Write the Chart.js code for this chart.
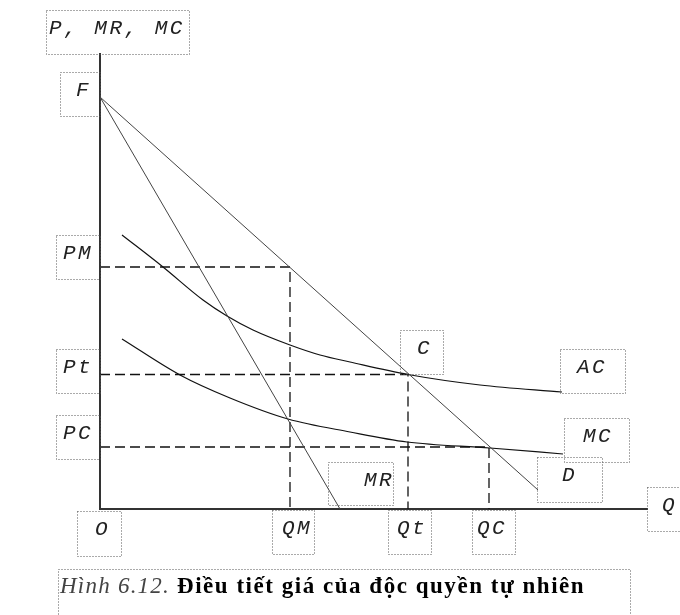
<!DOCTYPE html>
<html>
<head>
<meta charset="utf-8">
<title>Hình 6.12</title>
<script src="https://cdn.jsdelivr.net/npm/chart.js@4.4.1/dist/chart.umd.min.js"></script>
<style>
  body { margin: 0; background: #fff; }
  canvas { display: block; }
</style>
</head>
<body>
<canvas id="chart" width="680" height="615"></canvas>
<script>
// values (Q on x, P on y, arbitrary units)
const demandQ = [0, 87.6];
const demandP = [82.4, 3.8];
const mrQ = [0, 48];
const mrP = [82.4, 0];
const acQ = [4.4, 12.6, 20.6, 25.4, 30.6, 38, 44, 50, 61.6, 76, 92.4];
const acP = [54.8, 48.4, 41.8, 38.6, 35.8, 32.8, 30.8, 29.4, 26.9, 24.8, 23.4];
const mcQ = [4.4, 16, 26, 37.6, 50, 61.4, 78, 92.6];
const mcP = [34, 26.8, 22.2, 18.0, 15.4, 13.4, 12.2, 11];
// monopoly / regulated (P = AC) / P = MC
const keyQ = [38, 61.6, 77.8];
const keyP = [48.4, 26.9, 12.4];
const xTickLabels = ['QM', 'Qt', 'QC'];
const yTickLabels = ['PM', 'Pt', 'PC'];
const qMax = 109.4;
const pMax = 91;

const toPoints = (xs, ys) => xs.map((x, i) => ({ x: x, y: ys[i] }));

const lineSet = (pts, color, width, extra) => Object.assign({
  data: pts,
  showLine: true,
  borderColor: color,
  borderWidth: width,
  pointRadius: 0,
  fill: false
}, extra || {});

const guides = keyQ.map((q, i) => lineSet(
  [{ x: 0, y: keyP[i] }, { x: q, y: keyP[i] }, { x: q, y: 0 }],
  '#111', 1.3, { borderDash: [10, 5] }
));

// dotted label boxes, anchored on data points; box = [dx, dy, w, h] in px
const boxes = [
  { text: 'P, MR, MC', at: [0, pMax], box: [-54, -44, 143, 44], tx: 3 },
  { text: 'F', at: [0, demandP[0]], box: [-40, -25, 40, 44], tx: 16 },
  { text: yTickLabels[0], at: [0, keyP[0]], box: [-44, -32, 44, 44], tx: 7 },
  { text: yTickLabels[1], at: [0, keyP[1]], box: [-44, -26, 44, 44], tx: 7 },
  { text: yTickLabels[2], at: [0, keyP[2]], box: [-44, -32, 44, 44], tx: 7 },
  { text: 'O', at: [0, 0], box: [-23, 2, 44, 45], tx: 18 },
  { text: xTickLabels[0], at: [keyQ[0], 0], box: [-18, 1, 42, 44], tx: 10 },
  { text: xTickLabels[1], at: [keyQ[1], 0], box: [-20, 1, 43, 44], tx: 9 },
  { text: xTickLabels[2], at: [keyQ[2], 0], box: [-17, 1, 43, 44], tx: 5 },
  { text: 'Q', at: [qMax, 0], box: [0, -22, 60, 44], tx: 15 },
  { text: 'C', at: [keyQ[1], keyP[1]], box: [-8, -45, 43, 44], tx: 17 },
  { text: 'AC', at: [acQ[acQ.length - 1], acP[acP.length - 1]], box: [-2, -43, 65, 44], tx: 17 },
  { text: 'MC', at: [mcQ[mcQ.length - 1], mcP[mcP.length - 1]], box: [1, -36, 65, 44], tx: 19 },
  { text: 'D', at: [demandQ[1], demandP[1]], box: [-1, -33, 65, 45], tx: 25 },
  { text: 'MR', at: [mrQ[1], mrP[1]], box: [-12, -47, 65, 43], tx: 36 }
];

const setSpacing = (ctx, text, target) => {
  if (!('letterSpacing' in ctx)) return;
  ctx.letterSpacing = '0px';
  const w = ctx.measureText(text).width;
  const s = Math.max(0, (target - w) / text.length);
  ctx.letterSpacing = s.toFixed(2) + 'px';
};

const labelBoxes = {
  id: 'labelBoxes',
  afterDraw(chart) {
    const ctx = chart.ctx;
    const xs = chart.scales.x, ys = chart.scales.y;
    ctx.save();
    boxes.forEach(b => {
      const px = Math.round(xs.getPixelForValue(b.at[0]) + b.box[0]);
      const py = Math.round(ys.getPixelForValue(b.at[1]) + b.box[1]);
      const w = b.box[2], h = b.box[3];
      ctx.save();
      ctx.setLineDash([1, 2]);
      ctx.strokeStyle = '#555';
      ctx.lineWidth = 1;
      ctx.strokeRect(px + 0.5, py + 0.5, w, h);
      ctx.beginPath();
      ctx.rect(px, py, w, h);
      ctx.clip();
      ctx.fillStyle = '#222';
      ctx.font = 'italic 21px "Liberation Mono", "DejaVu Sans Mono", monospace';
      if ('letterSpacing' in ctx) ctx.letterSpacing = '2.5px';
      ctx.textBaseline = 'alphabetic';
      ctx.fillText(b.text, px + b.tx, py + 24);
      ctx.restore();
    });

    // caption
    ctx.setLineDash([1, 2]);
    ctx.strokeStyle = '#555';
    ctx.lineWidth = 1;
    ctx.strokeRect(58.5, 569.5, 572, 70);
    ctx.setLineDash([]);
    ctx.textBaseline = 'alphabetic';
    const part1 = 'Hình 6.12.';
    const part2 = 'Điều tiết giá của độc quyền tự nhiên';
    ctx.font = 'italic 23px "Liberation Serif", "DejaVu Serif", serif';
    setSpacing(ctx, part1, 110);
    ctx.fillStyle = '#444';
    ctx.fillText(part1, 60, 593);
    ctx.font = 'bold 23px "Liberation Serif", "DejaVu Serif", serif';
    setSpacing(ctx, part2, 408);
    ctx.fillStyle = '#000';
    ctx.fillText(part2, 177, 593);
    ctx.restore();
  }
};

new Chart(document.getElementById('chart'), {
  type: 'scatter',
  data: {
    datasets: [
      lineSet(toPoints(demandQ, demandP), '#444', 1),
      lineSet(toPoints(mrQ, mrP), '#444', 1),
      lineSet(toPoints(acQ, acP), '#111', 1.2, { cubicInterpolationMode: 'monotone' }),
      lineSet(toPoints(mcQ, mcP), '#111', 1.2, { cubicInterpolationMode: 'monotone' })
    ].concat(guides)
  },
  options: {
    responsive: false,
    animation: false,
    layout: { padding: { left: 100, top: 54, right: 33, bottom: 106 } },
    plugins: {
      legend: { display: false },
      tooltip: { enabled: false }
    },
    scales: {
      x: {
        type: 'linear', min: 0, max: qMax,
        grid: { display: false, drawTicks: false },
        ticks: { display: false },
        border: { color: '#333', width: 2 }
      },
      y: {
        type: 'linear', min: 0, max: pMax,
        grid: { display: false, drawTicks: false },
        ticks: { display: false },
        border: { color: '#333', width: 2 }
      }
    }
  },
  plugins: [labelBoxes]
});
</script>
</body>
</html>
